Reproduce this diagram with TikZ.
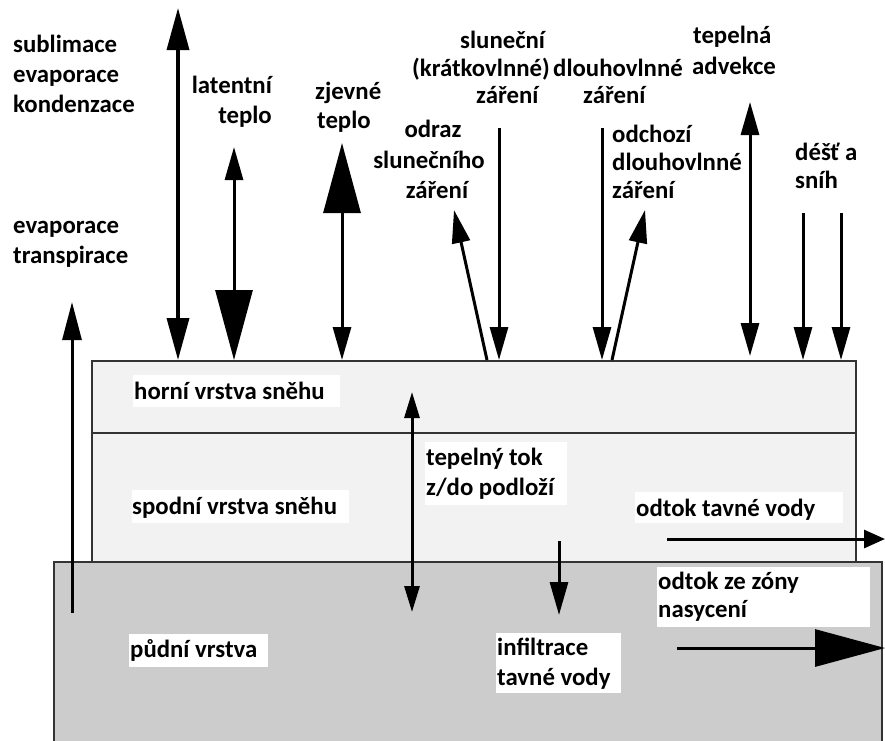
\documentclass[tikz,border=0pt]{standalone}
\usepackage{fontspec}
\setmainfont{Carlito}
\usetikzlibrary{arrows.meta}
\begin{document}
\begin{tikzpicture}[x=1pt,y=-1pt,
  txt/.style={font=\bfseries\fontsize{24.8}{30}\selectfont, inner sep=0pt, anchor=base west},
  txtc/.style={txt, anchor=base},
  txte/.style={txt, anchor=base east},
  arr/.style={line width=3pt, draw=black},
  tipS/.tip={Triangle[width=18pt,length=33pt]},
  tipM/.tip={Triangle[width=22pt,length=42pt]},
  tipL/.tip={Triangle[width=37pt,length=70pt]},
  tipT/.tip={Triangle[width=15pt,length=26pt]},
  tipR/.tip={Triangle[width=18pt,length=21pt]},
  layer/.style={draw=black!80, line width=1.3pt}
]
\useasboundingbox (0,0) rectangle (885,740);
% layers
\fill[black!5] (92,361) rectangle (856,562);
\draw[layer] (92,562) -- (92,361) -- (856,361) -- (856,562);
\draw[layer] (92,433) -- (856,433);
\fill[black!20] (54,562) rectangle (882,745);
\draw[layer] (54,745) -- (54,562) -- (882,562) -- (882,745);

% coordinates
\coordinate (etB) at (72,613);   \coordinate (etT) at (72,302);
\coordinate (suT) at (178,8);    \coordinate (suB) at (178,360);
\coordinate (laT) at (234,147);  \coordinate (laB) at (234,360);
\coordinate (zjT) at (342,143);  \coordinate (zjB) at (342,360);
\coordinate (odB) at (487,360);  \coordinate (odT) at (454,210);
\coordinate (slT) at (499,128);  \coordinate (slB) at (499,360);
\coordinate (dlT) at (602,128);  \coordinate (dlB) at (602,360);
\coordinate (ocB) at (612,360);  \coordinate (ocT) at (645,210);
\coordinate (adT) at (750,102);  \coordinate (adB) at (750,356);
\coordinate (d1T) at (803,213);  \coordinate (d1B) at (803,360);
\coordinate (d2T) at (841,213);  \coordinate (d2B) at (841,360);
\coordinate (ttT) at (412,392);  \coordinate (ttB) at (412,612);
\coordinate (inT) at (559,541);  \coordinate (inB) at (559,615);
\coordinate (otL) at (667,539);  \coordinate (otR) at (885,539);
\coordinate (ozL) at (677,648);  \coordinate (ozR) at (885,648);

% arrows
\draw[arr,-{Triangle[width=19pt,length=38pt]}] (etB) -- (etT);
\draw[arr,line width=3.5pt,tipM-tipM] (suB) -- (suT);
\draw[arr,tipS-tipL] (laT) -- (laB);
\draw[arr,tipL-tipS] (zjT) -- (zjB);
\draw[arr,-tipS] (odB) -- (odT);
\draw[arr,-tipS] (slT) -- (slB);
\draw[arr,-tipS] (dlT) -- (dlB);
\draw[arr,-tipS] (ocB) -- (ocT);
\draw[arr,tipS-tipS] (adT) -- (adB);
\draw[arr,-tipS] (d1T) -- (d1B);
\draw[arr,-tipS] (d2T) -- (d2B);
\draw[arr,tipT-tipT] (ttT) -- (ttB);
\draw[arr,-tipS] (inT) -- (inB);
\draw[arr,-tipR] (otL) -- (otR);
\draw[arr,-tipL] (ozL) -- (ozR);

% top labels
\node[txt] (s1) at (13,52) {sublimace};
\node[txt] (s2) at (13,82) {evaporace};
\node[txt] (s3) at (13,112) {kondenzace};
\node[txt] (e1) at (13,233) {evaporace};
\node[txt] (e2) at (13,263) {transpirace};
\node[txte] (l1) at (272,93) {latentní};
\node[txte] (l2) at (272,123) {teplo};
\node[txt] (z1) at (315,99) {zjevné};
\node[txt] (z2) at (317,128) {teplo};
\node[txtc] (o1) at (433,137) {odraz};
\node[txtc] (o2) at (429,168) {slunečního};
\node[txtc] (o3) at (437,198) {záření};
\node[txt] (k1) at (460,48) {sluneční};
\node[txt] (k2) at (412,76) {(krátkovlnné)};
\node[txt] (k3) at (476,103) {záření};
\node[txt] (dv1) at (553,76) {dlouhovlnné};
\node[txt] (dv2) at (583,103) {záření};
\node[txt] (a1) at (693,43) {tepelná};
\node[txt] (a2) at (692,74) {advekce};
\node[txt] (c1) at (612,142) {odchozí};
\node[txt] (c2) at (612,170) {dlouhovlnné};
\node[txt] (c3) at (612,198) {záření};
\node[txt] (r1) at (795,160) {déšť a};
\node[txt] (r2) at (795,188) {sníh};

% white backgrounds for inner labels
\fill[white] (133,375) rectangle (340,407);
\fill[white] (132,490) rectangle (349,523);
\fill[white] (129,634) rectangle (268,667);
\fill[white] (425,442) rectangle (567,505);
\fill[white] (635,492) rectangle (843,523);
\fill[white] (657,567) rectangle (870,627);
\fill[white] (496,633) rectangle (621,693);

% inner labels
\node[txt] (h1) at (134,399) {horní vrstva sněhu};
\node[txt] (p1) at (132,514) {spodní vrstva sněhu};
\node[txt] (u1) at (130,657) {půdní vrstva};
\node[txt] (t1) at (426,465) {tepelný tok};
\node[txt] (t2) at (426,495) {z/do podloží};
\node[txt] (v1) at (636,516) {odtok tavné vody};
\node[txt] (n1) at (658,589) {odtok ze zóny};
\node[txt] (n2) at (658,617) {nasycení};
\node[txt] (i1) at (497,655) {infiltrace};
\node[txt] (i2) at (497,685) {tavné vody};
\end{tikzpicture}
\end{document}
